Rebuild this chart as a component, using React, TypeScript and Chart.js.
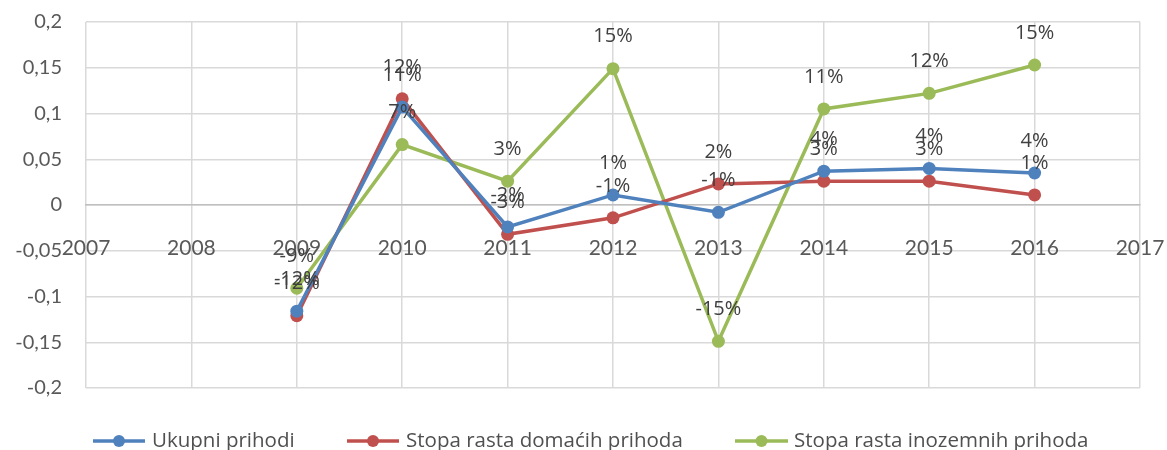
import React, { useEffect, useRef } from "react";
import { Chart, registerables } from "chart.js";

Chart.register(...registerables);

const years = [2009, 2010, 2011, 2012, 2013, 2014, 2015, 2016];
const ukupni = [-0.116, 0.107, -0.024, 0.011, -0.008, 0.037, 0.040, 0.035];
const domaci = [-0.121, 0.116, -0.032, -0.014, 0.023, 0.026, 0.026, 0.011];
const inozemni = [-0.091, 0.066, 0.026, 0.149, -0.149, 0.105, 0.122, 0.153];
const seriesNames = ["Ukupni prihodi", "Stopa rasta domaćih prihoda", "Stopa rasta inozemnih prihoda"];
const seriesColors = ["#4F81BD", "#C0504D", "#9BBB59"];
const xMin = 2007;
const xMax = 2017;

const FONT = "Lato, 'Open Sans', sans-serif";
const FONT2 = "'Open Sans', Lato, sans-serif";

const labelPlugin = {
  id: "valueLabels",
  afterDatasetsDraw(chart: any) {
    const ctx = chart.ctx;
    ctx.save();
    ctx.font = `20px ${FONT2}`;
    ctx.fillStyle = "#404040";
    ctx.textAlign = "center";
    ctx.textBaseline = "middle";
    chart.data.datasets.forEach((ds: any, i: number) => {
      const meta = chart.getDatasetMeta(i);
      meta.data.forEach((pt: any, j: number) => {
        const v = ds.data[j].y;
        const txt = Math.round(v * 100) + "%";
        ctx.fillText(txt, pt.x, pt.y - 32);
      });
    });
    ctx.restore();
  },
};

const legendPlugin = {
  id: "customLegend",
  afterDraw(chart: any) {
    const ctx = chart.ctx;
    const items = [
      { x0: 93, x1: 145, tx: 152 },
      { x0: 347, x1: 399, tx: 406 },
      { x0: 735, x1: 788, tx: 794 },
    ];
    const y = 441;
    ctx.save();
    items.forEach((it, i) => {
      ctx.strokeStyle = seriesColors[i];
      ctx.lineWidth = 3.5;
      ctx.beginPath();
      ctx.moveTo(it.x0, y);
      ctx.lineTo(it.x1, y);
      ctx.stroke();
      ctx.fillStyle = seriesColors[i];
      ctx.beginPath();
      ctx.arc((it.x0 + it.x1) / 2, y, 6, 0, Math.PI * 2);
      ctx.fill();
      ctx.font = `20.5px ${FONT2}`;
      ctx.fillStyle = "#505050";
      ctx.textAlign = "left";
      ctx.textBaseline = "middle";
      ctx.fillText(seriesNames[i], it.tx, y);
    });
    ctx.restore();
  },
};

export default function App() {
  const ref = useRef<HTMLCanvasElement>(null);
  useEffect(() => {
    document.body.style.margin = "0";
    const toPts = (arr: number[]) => arr.map((v, i) => ({ x: years[i], y: v }));
    const all = [ukupni, domaci, inozemni];
    const chart = new Chart(ref.current!, {
      type: "line",
      data: {
        datasets: all.map((arr, i) => ({
          label: seriesNames[i],
          data: toPts(arr),
          borderColor: seriesColors[i],
          backgroundColor: seriesColors[i],
          borderWidth: 3.5,
          pointRadius: 6.5,
          pointHoverRadius: 6.5,
          pointBorderWidth: 0,
          tension: 0,
        })),
      },
      options: {
        animation: false,
        responsive: false,
        devicePixelRatio: 1,
        layout: { padding: { left: 0, right: 27, top: 22, bottom: 62 } },
        plugins: { legend: { display: false }, tooltip: { enabled: false } },
        scales: {
          x: {
            type: "linear",
            min: xMin,
            max: xMax,
            position: { y: 0 } as any,
            afterFit: (s: any) => {
              s.paddingLeft = 0;
              s.paddingRight = 0;
            },
            ticks: {
              stepSize: 1,
              autoSkip: false,
              maxRotation: 0,
              padding: 31,
              color: "#595959",
              font: { family: FONT, size: 21 },
              callback: (v: any) => String(v),
            },
            grid: { color: "#d9d9d9", lineWidth: 1.5, drawTicks: false },
            border: { display: true, color: "#bfbfbf", width: 1.5 },
          },
          y: {
            min: -0.2,
            max: 0.2,
            afterFit: (s: any) => {
              s.width = 86;
              s.paddingTop = 0;
              s.paddingBottom = 0;
            },
            ticks: {
              stepSize: 0.05,
              padding: 24,
              color: "#595959",
              font: { family: FONT, size: 20 },
              callback: (v: any) => String(parseFloat(Number(v).toFixed(2))).replace(".", ","),
            },
            grid: { color: "#d9d9d9", lineWidth: 1.5, drawTicks: false },
            border: { display: false },
          },
        },
      },
      plugins: [labelPlugin, legendPlugin],
    });
    return () => chart.destroy();
  }, []);
  return (
    <div style={{ position: "absolute", left: 0, top: 0, width: 1167, height: 450, background: "#fff" }}>
      <canvas ref={ref} width={1167} height={450} style={{ width: 1167, height: 450 }} />
    </div>
  );
}
